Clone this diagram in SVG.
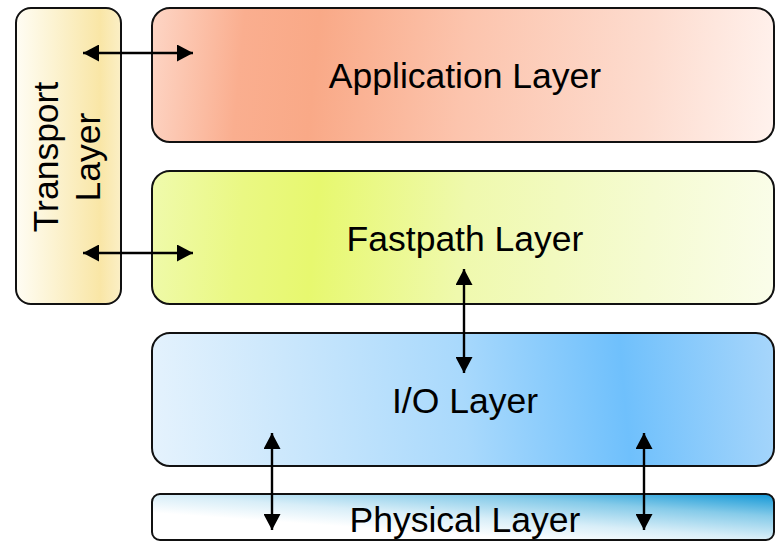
<svg xmlns="http://www.w3.org/2000/svg" width="775" height="541" viewBox="0 0 775 541">
  <style>
    .box { stroke: #111; stroke-width: 2; }
    .label { font-family: "Liberation Sans", Arial, sans-serif; font-size: 35.5px; fill: #000; text-anchor: middle; }
    .link { stroke: #000; stroke-width: 2.4; fill: none; marker-start: url(#head); marker-end: url(#head); }
  </style>
  <defs>
    <marker id="head" viewBox="0 0 16 17" refX="16" refY="8.5" markerWidth="16" markerHeight="17" markerUnits="userSpaceOnUse" orient="auto-start-reverse">
      <path d="M0,0 L16,8.5 L0,17 Z" fill="#000"/>
    </marker>
    <linearGradient id="gTransport" x1="0" y1="0" x2="1" y2="0">
      <stop offset="0" stop-color="#fffdf4"/>
      <stop offset="0.35" stop-color="#fcf3d2"/>
      <stop offset="0.8" stop-color="#f9e6a6"/>
      <stop offset="1" stop-color="#fbefc6"/>
    </linearGradient>
    <linearGradient id="gApp" x1="0" y1="0.49" x2="1" y2="0.51">
      <stop offset="0" stop-color="#fdd3c2"/>
      <stop offset="0.14" stop-color="#faae8f"/>
      <stop offset="0.26" stop-color="#f9a987"/>
      <stop offset="0.5" stop-color="#fcc4ad"/>
      <stop offset="0.8" stop-color="#fddccf"/>
      <stop offset="1" stop-color="#fff1ec"/>
    </linearGradient>
    <linearGradient id="gFast" x1="0" y1="0.49" x2="1" y2="0.51">
      <stop offset="0" stop-color="#effaaa"/>
      <stop offset="0.14" stop-color="#eaf883"/>
      <stop offset="0.26" stop-color="#e7f86f"/>
      <stop offset="0.5" stop-color="#eff9ad"/>
      <stop offset="0.8" stop-color="#f5fbd2"/>
      <stop offset="1" stop-color="#fafde9"/>
    </linearGradient>
    <linearGradient id="gIO" x1="0" y1="0.51" x2="1" y2="0.49">
      <stop offset="0" stop-color="#e4f2fd"/>
      <stop offset="0.2" stop-color="#cde8fc"/>
      <stop offset="0.5" stop-color="#a9d9fc"/>
      <stop offset="0.76" stop-color="#6fc0fc"/>
      <stop offset="1" stop-color="#a5d5fb"/>
    </linearGradient>
    <linearGradient id="gPhys" gradientUnits="userSpaceOnUse" x1="152" y1="540" x2="158.5" y2="449.5">
      <stop offset="0" stop-color="#ffffff"/>
      <stop offset="0.3" stop-color="#ffffff"/>
      <stop offset="0.5" stop-color="#d8eef8"/>
      <stop offset="0.75" stop-color="#86cbe9"/>
      <stop offset="1" stop-color="#0f96d6"/>
    </linearGradient>
  </defs>

  <!-- layer boxes -->
  <g id="transport">
    <rect class="box" x="16" y="8" width="105" height="296" rx="15" fill="url(#gTransport)"/>
    <text class="label" transform="translate(58,157) rotate(-90)">Transport</text>
    <text class="label" transform="translate(100,157) rotate(-90)">Layer</text>
  </g>
  <g id="application">
    <rect class="box" x="152" y="8" width="622" height="134" rx="18" fill="url(#gApp)"/>
    <text class="label" x="465" y="88">Application Layer</text>
  </g>
  <g id="fastpath">
    <rect class="box" x="152" y="171" width="622" height="133" rx="18" fill="url(#gFast)"/>
    <text class="label" x="465" y="251">Fastpath Layer</text>
  </g>
  <g id="io">
    <rect class="box" x="152" y="333" width="622" height="133" rx="18" fill="url(#gIO)"/>
    <text class="label" x="465" y="413">I/O Layer</text>
  </g>
  <g id="physical">
    <rect class="box" x="152" y="494" width="622" height="46" rx="8" fill="url(#gPhys)"/>
    <text class="label" x="465" y="532">Physical Layer</text>
  </g>

  <!-- connectors -->
  <g id="connectors">
    <line class="link" x1="83" y1="53" x2="193" y2="53"/>
    <line class="link" x1="83" y1="253" x2="193" y2="253"/>
    <line class="link" x1="464" y1="269" x2="464" y2="373"/>
    <line class="link" x1="272" y1="433" x2="272" y2="530"/>
    <line class="link" x1="644" y1="433" x2="644" y2="530"/>
  </g>
</svg>
